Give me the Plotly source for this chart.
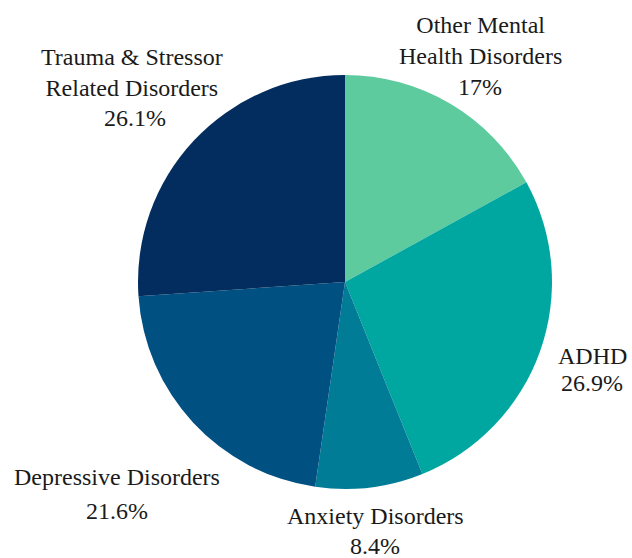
import plotly.graph_objects as go

names = ["Other Mental<br>Health Disorders", "ADHD", "Anxiety Disorders",
         "Depressive Disorders", "Trauma & Stressor<br>Related Disorders"]
values = [17, 26.9, 8.4, 21.6, 26.1]
colors = ["#5DCB9E", "#00A7A0", "#007C96", "#005082", "#022D5E"]

# label placement (px from left / px from top) for name block and value line
W, H = 632, 558
name_pos = [(480, 41), (592, 356), (375, 516), (117, 477), (132, 73)]
val_pos = [(480, 87), (592, 383), (375, 546), (117, 511), (135, 118)]

fig = go.Figure(go.Pie(
    labels=[n.replace("<br>", " ") for n in names],
    values=values,
    sort=False,
    direction="clockwise",
    rotation=0,
    marker=dict(colors=colors, line=dict(width=0)),
    textinfo="none",
    showlegend=False,
    hoverinfo="label+value",
    domain=dict(x=[(345 - 207) / W, (345 + 207) / W],
                y=[(H - 282 - 207) / H, (H - 282 + 207) / H]),
))

font = dict(family="Liberation Serif, DejaVu Serif, serif", size=24, color="#1a1a1a")
for n, v, (nx, ny), (vx, vy) in zip(names, values, name_pos, val_pos):
    fig.add_annotation(text=n, x=nx / W, y=1 - ny / H, xref="paper", yref="paper",
                       xanchor="center", yanchor="middle", showarrow=False, font=font)
    fig.add_annotation(text=f"{v:g}%", x=vx / W, y=1 - vy / H, xref="paper", yref="paper",
                       xanchor="center", yanchor="middle", showarrow=False, font=font)

fig.update_layout(
    width=W, height=H,
    margin=dict(l=0, r=0, t=0, b=0),
    paper_bgcolor="white",
    plot_bgcolor="white",
)
fig.write_html("out.html", config={"displayModeBar": False},
               post_script="document.body.style.margin='0';document.body.style.overflow='hidden';")
